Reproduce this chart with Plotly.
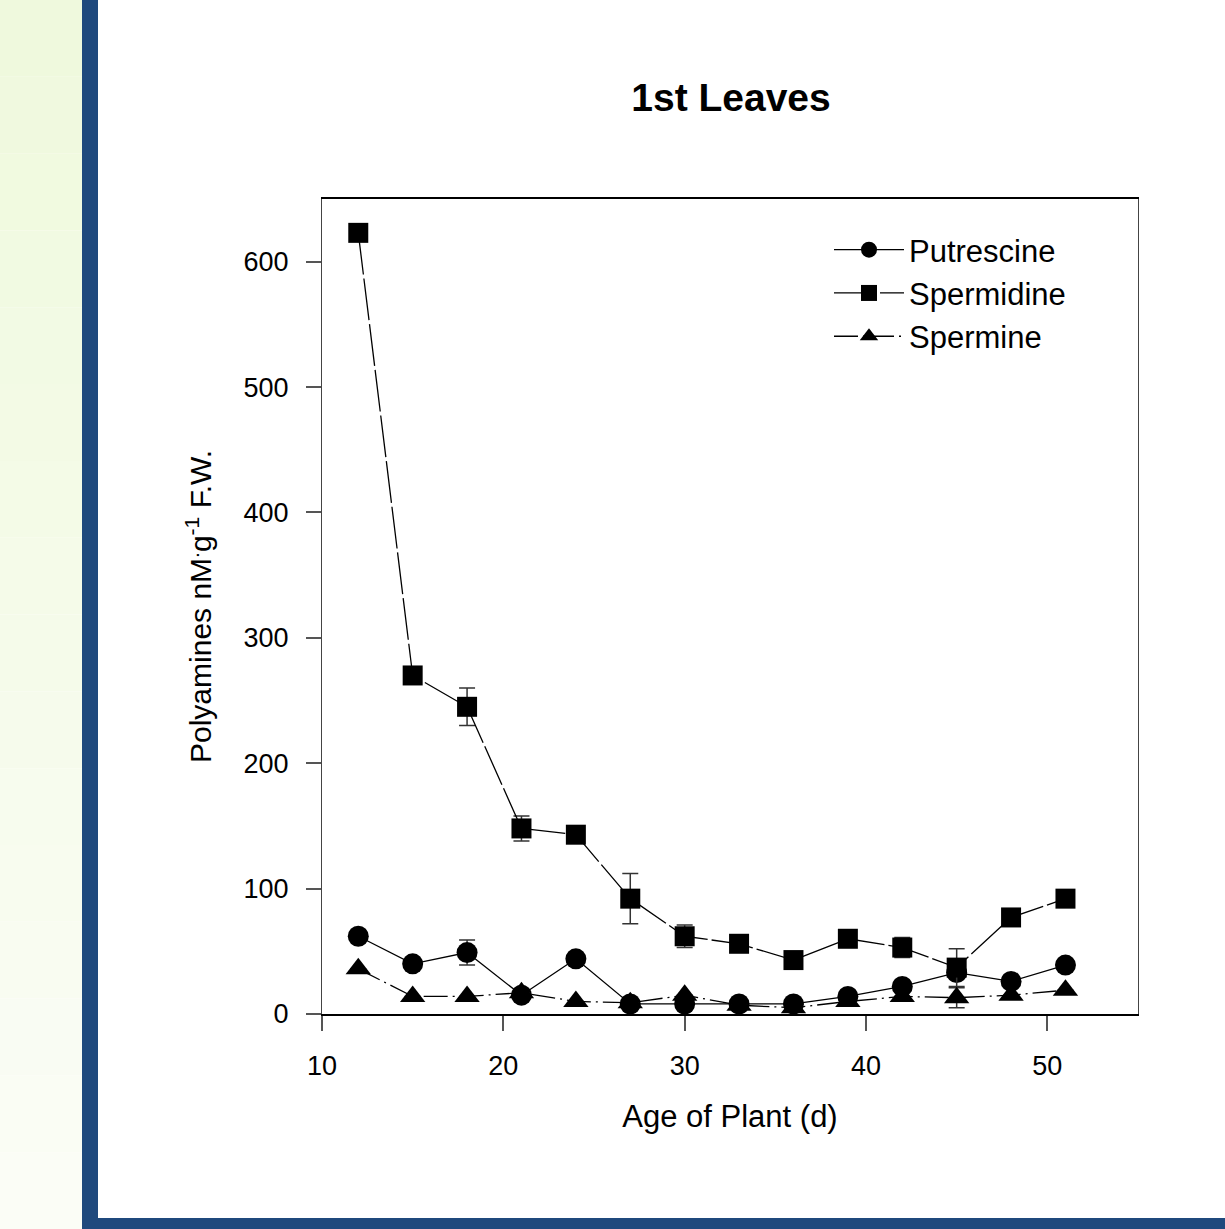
import plotly.graph_objects as go

age = [12, 15, 18, 21, 24, 27, 30, 33, 36, 39, 42, 45, 48, 51]
putrescine = [62, 40, 49, 15, 44, 8, 8, 8, 8, 14, 22, 33, 26, 39]
putrescine_err = [0, 0, 10, 0, 0, 0, 0, 3, 3, 3, 0, 0, 0, 0]
spermidine = [623, 270, 245, 148, 143, 92, 62, 56, 43, 60, 53, 37, 77, 92]
spermidine_err = [0, 0, 15, 10, 0, 20, 9, 0, 0, 0, 8, 15, 0, 0]
spermine = [36, 14, 14, 17, 10, 9, 15, 7, 5, 10, 14, 13, 15, 19]
spermine_err = [0, 0, 0, 0, 0, 0, 0, 0, 0, 0, 0, 8, 0, 0]

FONT = "Liberation Sans, Arial, sans-serif"

L, R, T, B = 322, 87, 199, 215
W, H = 1225, 1229
PW, PH = W - L - R, H - T - B


def px_x(p):
    return (p - L) / PW


def px_y(p):
    return (H - B - p) / PH


def err(vals):
    return dict(type="data", array=vals, visible=True, color="#333", thickness=1.5, width=8)


fig = go.Figure()
fig.add_trace(go.Scatter(
    x=age, y=putrescine, name="Putrescine", mode="lines+markers", legendgroup="a",
    line=dict(color="black", width=1.3, dash="solid"),
    marker=dict(symbol="circle", size=21, color="black"),
    error_y=err(putrescine_err)))
fig.add_trace(go.Scatter(
    x=age, y=spermidine, name="Spermidine", mode="lines+markers", legendgroup="b",
    line=dict(color="black", width=1.3, dash="42px,4px"),
    marker=dict(symbol="square", size=20, color="black"),
    error_y=err(spermidine_err)))
fig.add_trace(go.Scatter(
    x=age, y=spermine, name="Spermine", mode="lines+markers", legendgroup="c",
    line=dict(color="black", width=1.3, dash="24px,5px,2px,5px"),
    marker=dict(symbol="triangle-up", size=22, color="black"),
    error_y=err(spermine_err)))

shapes = []
# left pale-green gradient strip
n = 16
top_c = (239, 249, 221)
bot_c = (251, 253, 246)
for i in range(n):
    t = i / (n - 1)
    c = tuple(round(top_c[k] + (bot_c[k] - top_c[k]) * t) for k in range(3))
    y0 = H * i / n
    y1 = H * (i + 1) / n
    shapes.append(dict(type="rect", xref="paper", yref="paper",
                       x0=px_x(0), x1=px_x(82), y0=px_y(y1), y1=px_y(y0),
                       fillcolor="rgb(%d,%d,%d)" % c, line=dict(width=0), layer="below"))
BLUE = "#1F497D"
shapes.append(dict(type="rect", xref="paper", yref="paper",
                   x0=px_x(82), x1=px_x(98), y0=px_y(H), y1=px_y(0),
                   fillcolor=BLUE, line=dict(width=0), layer="below"))
shapes.append(dict(type="rect", xref="paper", yref="paper",
                   x0=px_x(82), x1=px_x(W), y0=px_y(H), y1=px_y(1218),
                   fillcolor=BLUE, line=dict(width=0), layer="below"))

fig.update_layout(
    width=W, height=H,
    margin=dict(l=L, r=R, t=T, b=B, autoexpand=False),
    paper_bgcolor="white", plot_bgcolor="white",
    font=dict(family=FONT, size=27, color="black"),
    title=dict(text="<b>1st Leaves</b>", x=px_x(731), xref="paper", xanchor="center",
               y=1 - 97 / H, yanchor="middle", font=dict(size=39, family=FONT)),
    showlegend=True,
    legend=dict(x=px_x(829), y=px_y(223), xanchor="left", yanchor="top",
                bgcolor="rgba(0,0,0,0)", font=dict(size=31, family=FONT),
                traceorder="grouped", tracegroupgap=0, itemwidth=70),
    shapes=shapes,
)
fig.update_xaxes(
    range=[10, 55], tickvals=[10, 20, 30, 40, 50], ticks="outside", ticklen=15,
    tickwidth=1.5, tickcolor="#555", showline=True, linecolor="black", linewidth=1.5,
    mirror=True, showgrid=False, zeroline=False, ticklabelstandoff=12,
    title=dict(text="Age of Plant (d)", standoff=25, font=dict(size=31)),
)
fig.update_yaxes(
    range=[0, 650], tickvals=[0, 100, 200, 300, 400, 500, 600], ticks="outside",
    ticklen=15, tickwidth=1.5, tickcolor="#555", showline=True, linecolor="#444",
    linewidth=1.3, mirror=True, showgrid=False, zeroline=False, ticklabelstandoff=12,
    title=dict(text="Polyamines nM<sup>.</sup>g<sup>-1</sup> F.W.", standoff=22,
               font=dict(size=30)),
)

fig.write_html("out.html", config={"displayModeBar": False},
               post_script="document.body.style.margin='0';document.body.style.padding='0';")
